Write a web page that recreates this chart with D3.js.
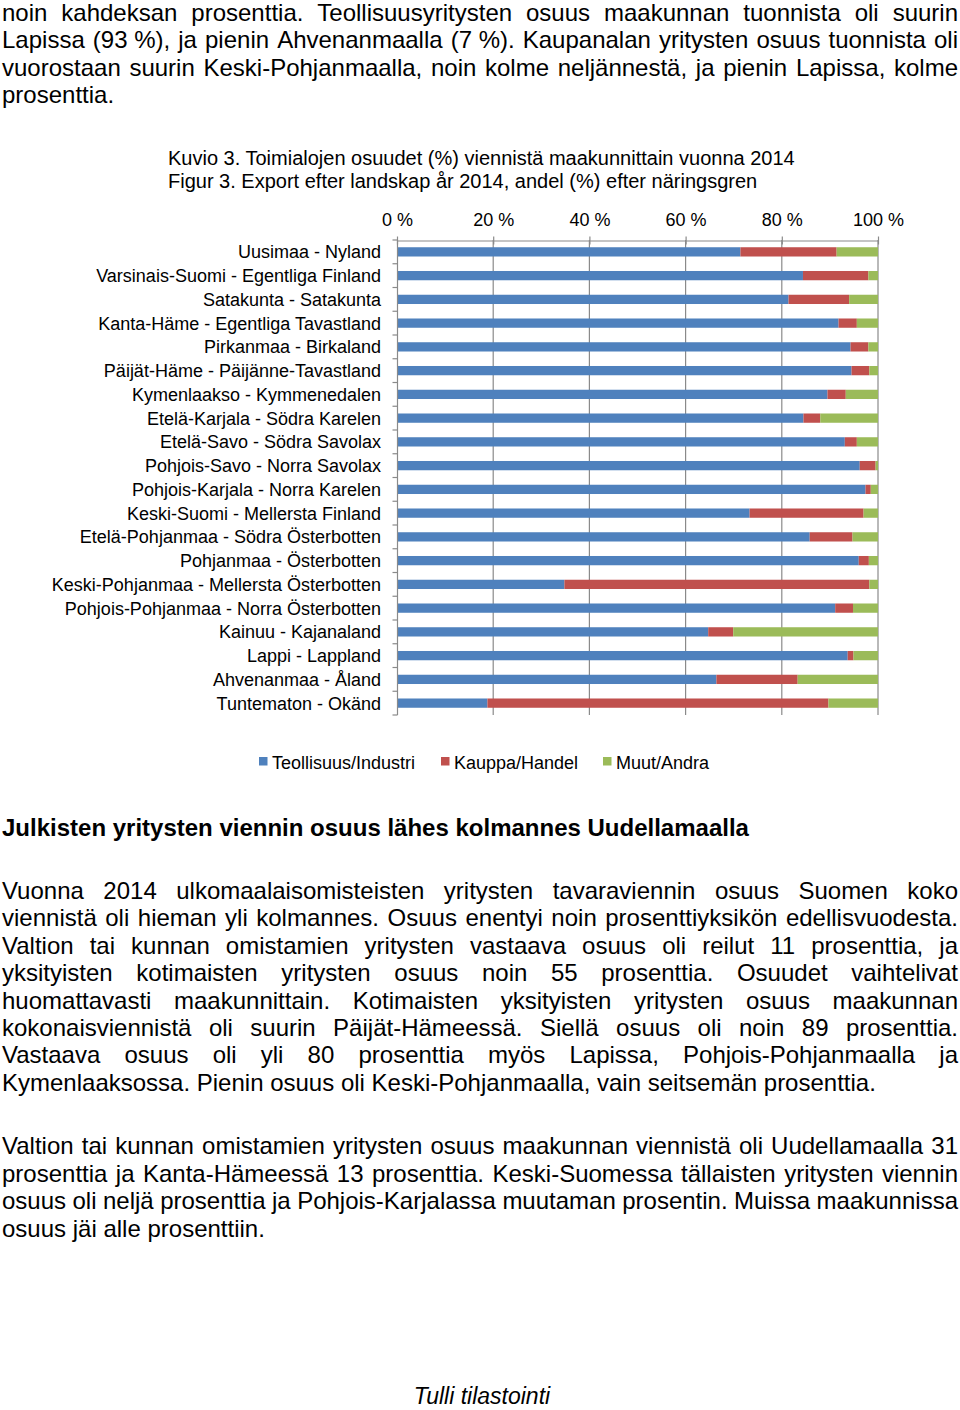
<!DOCTYPE html>
<html>
<head>
<meta charset="utf-8">
<script src="https://cdn.jsdelivr.net/npm/d3@7"></script>
<style>
  html, body { margin: 0; padding: 0; background: #fff; }
  svg { display: block; }
  text { font-family: "Liberation Sans", Arial, Helvetica, sans-serif; fill: #000; }
</style>
</head>
<body>
<svg id="page" width="960" height="1410"></svg>
<script>
// ---------------- DATA ----------------
const categories = [
  "Uusimaa - Nyland",
  "Varsinais-Suomi - Egentliga Finland",
  "Satakunta - Satakunta",
  "Kanta-Häme - Egentliga Tavastland",
  "Pirkanmaa - Birkaland",
  "Päijät-Häme - Päijänne-Tavastland",
  "Kymenlaakso - Kymmenedalen",
  "Etelä-Karjala - Södra Karelen",
  "Etelä-Savo - Södra Savolax",
  "Pohjois-Savo - Norra Savolax",
  "Pohjois-Karjala - Norra Karelen",
  "Keski-Suomi - Mellersta Finland",
  "Etelä-Pohjanmaa - Södra Österbotten",
  "Pohjanmaa - Österbotten",
  "Keski-Pohjanmaa - Mellersta Österbotten",
  "Pohjois-Pohjanmaa - Norra Österbotten",
  "Kainuu - Kajanaland",
  "Lappi - Lappland",
  "Ahvenanmaa - Åland",
  "Tuntematon - Okänd"
];
const teollisuus = [71.4, 84.4, 81.4, 91.8, 94.3, 94.5, 89.5, 84.5, 93.1, 96.2, 97.4, 73.3, 85.8, 96.0, 34.8, 91.1, 64.7, 93.7, 66.4, 18.8];
const kauppa     = [20.0, 13.6, 12.6,  3.8,  3.7,  3.7,  3.8,  3.5,  2.5,  3.3,  1.1, 23.7,  8.9,  2.1, 63.4,  3.7,  5.2,  1.2, 16.9, 70.9];
const muut       = [ 8.6,  2.0,  6.0,  4.4,  2.0,  1.8,  6.7, 12.0,  4.4,  0.5,  1.5,  3.0,  5.3,  1.9,  1.8,  5.2, 30.1,  5.1, 16.7, 10.3];
const seriesNames = ["Teollisuus/Industri", "Kauppa/Handel", "Muut/Andra"];
const seriesKeys = ["teollisuus", "kauppa", "muut"];
const tickValues = [0, 20, 40, 60, 80, 100];
const tickLabels = ["0 %", "20 %", "40 %", "60 %", "80 %", "100 %"];

const para1 = [
  "noin kahdeksan prosenttia. Teollisuusyritysten osuus maakunnan tuonnista oli suurin",
  "Lapissa (93\u00a0%), ja pienin Ahvenanmaalla (7\u00a0%). Kaupanalan yritysten osuus tuonnista oli",
  "vuorostaan suurin Keski-Pohjanmaalla, noin kolme neljännestä, ja pienin Lapissa, kolme",
  "prosenttia."
];
const caption = [
  "Kuvio 3. Toimialojen osuudet (%) viennistä maakunnittain vuonna 2014",
  "Figur 3. Export efter landskap år 2014, andel (%) efter näringsgren"
];
const heading = "Julkisten yritysten viennin osuus lähes kolmannes Uudellamaalla";
const para2 = [
  "Vuonna 2014 ulkomaalaisomisteisten yritysten tavaraviennin osuus Suomen koko",
  "viennistä oli hieman yli kolmannes. Osuus enentyi noin prosenttiyksikön edellisvuodesta.",
  "Valtion tai kunnan omistamien yritysten vastaava osuus oli reilut 11 prosenttia, ja",
  "yksityisten kotimaisten yritysten osuus noin 55 prosenttia. Osuudet vaihtelivat",
  "huomattavasti maakunnittain. Kotimaisten yksityisten yritysten osuus maakunnan",
  "kokonaisviennistä oli suurin Päijät-Hämeessä. Siellä osuus oli noin 89 prosenttia.",
  "Vastaava osuus oli yli 80 prosenttia myös Lapissa, Pohjois-Pohjanmaalla ja",
  "Kymenlaaksossa. Pienin osuus oli Keski-Pohjanmaalla, vain seitsemän prosenttia."
];
const para3 = [
  "Valtion tai kunnan omistamien yritysten osuus maakunnan viennistä oli Uudellamaalla 31",
  "prosenttia ja Kanta-Hämeessä 13 prosenttia. Keski-Suomessa tällaisten yritysten viennin",
  "osuus oli neljä prosenttia ja Pohjois-Karjalassa muutaman prosentin. Muissa maakunnissa",
  "osuus jäi alle prosenttiin."
];
const footer = "Tulli tilastointi";

// ---------------- DRAW ----------------
const svg = d3.select("#page");
const colors = ["#4f81bd", "#c0504d", "#9bbb59"];

// justified text helper
function textLine(g, str, y, justify, fs, x0, x1, weight) {
  const words = str.split(" ");
  const nodes = words.map(w => g.append("text")
    .attr("y", y).attr("font-size", fs)
    .attr("font-weight", weight || "normal")
    .text(w));
  const widths = nodes.map(n => n.node().getComputedTextLength());
  const total = d3.sum(widths);
  const probe = g.append("text").attr("font-size", fs).text("x x");
  const probe2 = g.append("text").attr("font-size", fs).text("xx");
  const space = probe.node().getComputedTextLength() - probe2.node().getComputedTextLength();
  probe.remove(); probe2.remove();
  let gap = space;
  let sx = 1;
  if (justify && words.length > 1) {
    gap = (x1 - x0 - total) / (words.length - 1);
    if (gap < space * 0.7) {
      gap = space * 0.7;
      sx = (x1 - x0 - gap * (words.length - 1)) / total;
    }
  }
  let x = x0;
  nodes.forEach((n, i) => {
    n.attr("x", 0).attr("transform", `translate(${x},0) scale(${sx},1)`);
    x += widths[i] * sx + gap;
  });
}

function paragraph(lines, y0, step) {
  const g = svg.append("g");
  lines.forEach((l, i) => textLine(g, l, y0 + i * step, i < lines.length - 1, 24, 2, 958));
}

paragraph(para1, 21, 27.4);

// caption
svg.append("text").attr("x", 168).attr("y", 165).attr("font-size", 20).text(caption[0]);
svg.append("text").attr("x", 168).attr("y", 188).attr("font-size", 20).text(caption[1]);

// chart
const x = d3.scaleLinear().domain([0, 100]).range([397, 878]);
const y = d3.scaleBand().domain(categories).range([240, 715]).paddingInner(0.61).paddingOuter(0.305);
const bandStep = y.step();

const chart = svg.append("g");
const gridColor = "#8a8a8a";

// vertical gridlines
chart.append("g").selectAll("line").data(tickValues.slice(1)).join("line")
  .attr("x1", d => x(d)).attr("x2", d => x(d))
  .attr("y1", 240).attr("y2", 715)
  .attr("stroke", gridColor).attr("stroke-width", 1.2);

// top axis
const xAxis = d3.axisTop(x).tickValues(tickValues).tickFormat((d, i) => tickLabels[i]).tickSize(0).tickPadding(0);
const gx = chart.append("g").attr("transform", "translate(0,240.5)").call(xAxis);
gx.select(".domain").attr("stroke", gridColor).attr("stroke-width", 1.2);
gx.selectAll(".tick text").attr("font-size", 18).attr("fill", "#000")
  .attr("font-family", '"Liberation Sans", Arial, sans-serif').attr("dy", 0).attr("y", -15);
gx.selectAll(".tick").append("line").attr("y1", -4).attr("y2", 4).attr("stroke", gridColor).attr("stroke-width", 1.2);

// stacked bars
const rows = categories.map((c, i) => ({ cat: c, teollisuus: teollisuus[i], kauppa: kauppa[i], muut: muut[i] }));
const stack = d3.stack().keys(seriesKeys)(rows);
chart.append("g").selectAll("g").data(stack).join("g")
  .attr("fill", (d, i) => colors[i])
  .selectAll("rect").data(d => d).join("rect")
  .attr("x", d => x(d[0]))
  .attr("width", d => x(d[1]) - x(d[0]))
  .attr("y", d => y(d.data.cat))
  .attr("height", y.bandwidth());

// left axis
const gy = chart.append("g").attr("transform", "translate(397.5,0)");
gy.append("line").attr("y1", 240).attr("y2", 715).attr("stroke", gridColor).attr("stroke-width", 1.2);
gy.selectAll("line.tk").data(d3.range(categories.length + 1)).join("line").attr("class", "tk")
  .attr("x1", -5).attr("x2", 0)
  .attr("y1", i => 240 + i * bandStep).attr("y2", i => 240 + i * bandStep)
  .attr("stroke", gridColor).attr("stroke-width", 1.2);
chart.append("g").selectAll("text").data(categories).join("text")
  .attr("x", 381).attr("y", d => y(d) + y.bandwidth() / 2 + 6.5)
  .attr("text-anchor", "end").attr("font-size", 18).text(d => d);

// legend
const legendX = [259, 441, 603];
const lg = svg.append("g");
seriesNames.forEach((n, i) => {
  lg.append("rect").attr("x", legendX[i]).attr("y", 757).attr("width", 8.5).attr("height", 8.5).attr("fill", colors[i]);
  lg.append("text").attr("x", legendX[i] + 13).attr("y", 768.5).attr("font-size", 18).text(n);
});

// heading
svg.append("text").attr("x", 2).attr("y", 836).attr("font-size", 24).attr("font-weight", "bold").text(heading);

paragraph(para2, 899, 27.4);
paragraph(para3, 1154, 27.6);

svg.append("text").attr("x", 482).attr("y", 1404).attr("text-anchor", "middle")
  .attr("font-size", 23).attr("font-style", "italic").text(footer);
</script>
</body>
</html>
